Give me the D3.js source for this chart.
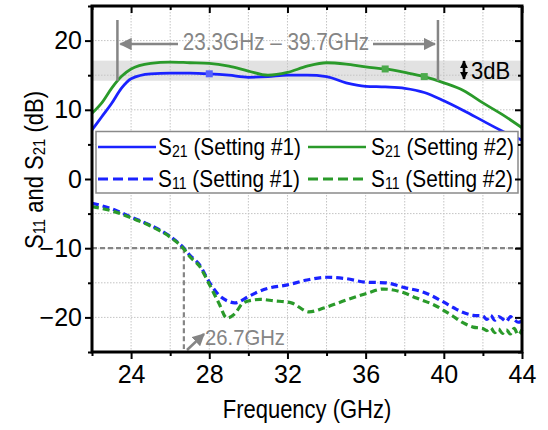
<!DOCTYPE html>
<html><head><meta charset="utf-8">
<script src="https://cdn.jsdelivr.net/npm/d3@7"></script>
<style>body{margin:0;background:#fff}svg{display:block}text{font-family:"Liberation Sans",Arial,sans-serif}</style>
</head><body><svg id="c" width="548" height="430"></svg>
<script>
const xTicks = [24, 28, 32, 36, 40, 44];
const xMinor = [22, 26, 30, 34, 38, 42];
const yTicks = [-20, -10, 0, 10, 20];
const yMinor = [-25, -15, -5, 5, 15, 25];

const freqS21 = [22, 22.5, 23, 23.5, 24, 25, 26, 27, 28, 29, 30, 31, 32, 33, 34, 35, 36, 37, 38, 39, 40, 41, 42, 43, 44];
const s21Set1 = [7.1, 9.0, 10.9, 13.1, 14.5, 15.2, 15.3, 15.3, 15.2, 15.0, 14.7, 14.8, 15.0, 15.0, 14.8, 13.9, 13.4, 13.3, 13.1, 12.5, 11.3, 9.9, 8.4, 6.9, 5.6];
const s21Set2 = [9.5, 11.0, 13.1, 14.8, 15.9, 16.7, 16.9, 16.8, 16.7, 16.3, 15.6, 15.0, 15.4, 16.3, 16.8, 16.6, 16.2, 15.9, 15.4, 14.8, 13.9, 12.8, 11.0, 9.3, 7.4];

const freqS11a = [22, 23, 24, 25, 26, 26.7, 27, 27.5, 28, 28.5, 29, 29.3, 30, 30.5, 31, 32, 33, 34, 35, 36, 37, 38, 39, 40, 40.5, 41, 41.5, 42, 42.2, 42.4, 42.6, 42.8, 43, 43.2, 43.4, 43.6, 43.8, 44];
const s11Set1 = [-3.5, -4.3, -5.5, -6.7, -8.3, -10, -11, -12.4, -14.9, -16.8, -17.7, -17.9, -17.0, -16.3, -15.8, -15.3, -14.6, -14.2, -14.4, -14.9, -15.0, -15.7, -16.4, -17.8, -18.6, -19.3, -19.7, -19.8, -20.3, -19.7, -20.4, -19.9, -20.2, -20.6, -19.9, -20.3, -20.7, -20.5];
const freqS11b = [22, 23, 24, 25, 26, 26.7, 27, 27.5, 28, 28.5, 28.9, 29.3, 29.7, 30.2, 30.6, 31.3, 32.2, 33.1, 33.9, 35, 36.1, 36.9, 37.8, 38.6, 39.5, 40.4, 41, 41.5, 42, 42.2, 42.4, 42.6, 42.8, 43, 43.2, 43.4, 43.6, 43.8, 44];
const s11Set2 = [-4.0, -4.6, -5.6, -6.8, -8.4, -10.1, -11.2, -12.6, -15.2, -18.0, -20.1, -19.5, -18.0, -17.5, -17.4, -17.6, -17.9, -19.2, -18.6, -17.5, -16.5, -15.9, -16.3, -17.2, -18.2, -19.7, -20.8, -21.4, -21.6, -21.9, -21.5, -22.2, -21.7, -22.3, -21.8, -22.4, -21.6, -22.5, -21.8];

const markersSet1 = [28];
const markersSet2 = [37, 39];
const band = [14.2, 17.1];
const bwLow = 23.3, bwHigh = 39.7, s11Cross = 26.7;

const blue = "#1a22ff", green = "#2a9a2a", gray = "#858585";
const svg = d3.select("#c");
const x = d3.scaleLinear().domain([22, 44]).range([92, 522]);
const y = d3.scaleLinear().domain([-25, 25]).range([352, 6]);

function txt(g, px, py, s, size, anchor, fill, rot, sx) {
  const t = g.append("text")
    .attr("transform", `translate(${px},${py})` + (rot ? ` rotate(${rot})` : "") + ` scale(${sx || 0.88},1)`)
    .attr("font-size", size).attr("text-anchor", anchor || "start").attr("fill", fill || "#000");
  if (Array.isArray(s)) {
    s.forEach(p => {
      const ts = t.append("tspan").text(p.t);
      if (p.sub) ts.attr("font-size", size * 0.68).attr("dy", 2);
      if (p.up) ts.attr("dy", -2);
    });
  } else t.text(s);
  return t;
}

// band
svg.append("rect").attr("x", x(22)).attr("width", x(44) - x(22))
  .attr("y", y(band[1])).attr("height", y(band[0]) - y(band[1])).attr("fill", "#e2e2e2");

// grid
const grid = svg.append("g").attr("stroke", "#c4c4c4").attr("stroke-width", 1).attr("stroke-dasharray", "1.5,1.5");
[...xTicks, ...xMinor].forEach(v => grid.append("line").attr("x1", x(v)).attr("x2", x(v)).attr("y1", y(25)).attr("y2", y(-25)));
[...yTicks, ...yMinor].forEach(v => grid.append("line").attr("y1", y(v)).attr("y2", y(v)).attr("x1", x(22)).attr("x2", x(44)));

// reference -10 dB lines
svg.append("line").attr("x1", x(22)).attr("x2", x(44)).attr("y1", y(-10)).attr("y2", y(-10))
  .attr("stroke", gray).attr("stroke-width", 2.2).attr("stroke-dasharray", "5,3");
svg.append("line").attr("x1", x(s11Cross)).attr("x2", x(s11Cross)).attr("y1", y(-10)).attr("y2", y(-25) - 3)
  .attr("stroke", gray).attr("stroke-width", 2.2).attr("stroke-dasharray", "5,3");

// curves
const line = d3.line().x(d => x(d[0])).y(d => y(d[1])).curve(d3.curveMonotoneX);
function series(fr, vals, color, dashed) {
  svg.append("path").datum(fr.map((f, i) => [f, vals[i]])).attr("d", line)
    .attr("fill", "none").attr("stroke", color).attr("stroke-width", dashed ? 3.2 : 2.8)
    .attr("stroke-dasharray", dashed ? "7,4" : null).attr("stroke-linejoin", "round");
}
series(freqS11a, s11Set1, blue, true);
series(freqS11b, s11Set2, green, true);
series(freqS21, s21Set1, blue, false);
series(freqS21, s21Set2, green, false);

function interp(fr, vals, f) { return d3.scaleLinear().domain(fr).range(vals)(f); }
markersSet1.forEach(f => svg.append("rect").attr("x", x(f) - 3.5).attr("y", y(interp(freqS21, s21Set1, f)) - 3.5)
  .attr("width", 7).attr("height", 7).attr("fill", "#5560ff"));
markersSet2.forEach(f => svg.append("rect").attr("x", x(f) - 3.5).attr("y", y(interp(freqS21, s21Set2, f)) - 3.5)
  .attr("width", 7).attr("height", 7).attr("fill", "#4caa4c"));

// defs arrow
const defs = svg.append("defs");
defs.append("marker").attr("id", "ah").attr("viewBox", "0 0 10 10").attr("refX", 9).attr("refY", 5)
  .attr("markerWidth", 5).attr("markerHeight", 5).attr("orient", "auto-start-reverse")
  .append("path").attr("d", "M0,0L10,5L0,10z").attr("fill", gray);
defs.append("marker").attr("id", "ahk").attr("viewBox", "0 0 10 10").attr("refX", 9).attr("refY", 5)
  .attr("markerWidth", 3.2).attr("markerHeight", 3.2).attr("orient", "auto-start-reverse")
  .append("path").attr("d", "M0,0L10,5L0,10z").attr("fill", "#000");

// bandwidth annotation
[bwLow, bwHigh].forEach(f => svg.append("line").attr("x1", x(f)).attr("x2", x(f)).attr("y1", 20).attr("y2", y(band[0]))
  .attr("stroke", gray).attr("stroke-width", 2.5));
svg.append("line").attr("x1", 178).attr("x2", x(bwLow) + 3).attr("y1", 44).attr("y2", 44)
  .attr("stroke", gray).attr("stroke-width", 2.5).attr("marker-end", "url(#ah)");
svg.append("line").attr("x1", 373).attr("x2", x(bwHigh) - 3).attr("y1", 44).attr("y2", 44)
  .attr("stroke", gray).attr("stroke-width", 2.5).attr("marker-end", "url(#ah)");
txt(svg, 276, 50, "23.3GHz – 39.7GHz", 23, "middle", gray, 0, 0.9);

// 3dB label
svg.append("line").attr("x1", 464).attr("x2", 464).attr("y1", 61).attr("y2", 79)
  .attr("stroke", "#000").attr("stroke-width", 2.6)
  .attr("marker-start", "url(#ahk)").attr("marker-end", "url(#ahk)");
txt(svg, 471, 79, "3dB", 24.5, "start", "#000", 0, 0.9);

// 26.7GHz annotation
svg.append("line").attr("x1", 187).attr("y1", 350).attr("x2", 204).attr("y2", 334)
  .attr("stroke", gray).attr("stroke-width", 2.5).attr("marker-end", "url(#ah)");
txt(svg, 205, 345, "26.7GHz", 22.5, "start", gray, 0, 0.9);

// legend
const lg = svg.append("g");
lg.append("rect").attr("x", 96).attr("y", 131.5).attr("width", 422).attr("height", 61.5)
  .attr("fill", "#fff").attr("stroke", "#8a8a8a").attr("stroke-width", 1.5);
const legendItems = [
  {c: blue, d: false, lx: 98, tx: 158, ly: 147, ty: 155, lab: [{t: "S"}, {t: "21", sub: true}, {t: " (Setting #1)", up: true}]},
  {c: green, d: false, lx: 308, tx: 371, ly: 147, ty: 155, lab: [{t: "S"}, {t: "21", sub: true}, {t: " (Setting #2)", up: true}]},
  {c: blue, d: true, lx: 98, tx: 158, ly: 179, ty: 187, lab: [{t: "S"}, {t: "11", sub: true}, {t: " (Setting #1)", up: true}]},
  {c: green, d: true, lx: 308, tx: 371, ly: 179, ty: 187, lab: [{t: "S"}, {t: "11", sub: true}, {t: " (Setting #2)", up: true}]}
];
legendItems.forEach(it => {
  lg.append("line").attr("x1", it.lx).attr("x2", it.lx + 58).attr("y1", it.ly).attr("y2", it.ly)
    .attr("stroke", it.c).attr("stroke-width", it.d ? 3 : 2.6).attr("stroke-dasharray", it.d ? "10,5" : null);
  txt(lg, it.tx, it.ty, it.lab, 24.5, "start", "#000", 0, 0.85);
});

// axes
const ax = svg.append("g");
const bottom = ax.append("g").attr("transform", `translate(0,${y(-25)})`)
  .call(d3.axisBottom(x).tickValues(xTicks).tickSize(7).tickFormat(d3.format("d")));
ax.append("g").attr("transform", `translate(0,${y(-25)})`).call(d3.axisBottom(x).tickValues(xMinor).tickSize(4).tickFormat(""));
const left = ax.append("g").attr("transform", `translate(${x(22)},0)`)
  .call(d3.axisLeft(y).tickValues(yTicks).tickSize(7).tickFormat(d => d3.format("d")(d).replace("-", "−")));
ax.append("g").attr("transform", `translate(${x(22)},0)`).call(d3.axisLeft(y).tickValues(yMinor).tickSize(4).tickFormat(""));
ax.append("g").attr("transform", `translate(0,${y(25)})`).call(d3.axisBottom(x).tickValues(xTicks).tickSize(7).tickFormat(""));
ax.append("g").attr("transform", `translate(0,${y(25)})`).call(d3.axisBottom(x).tickValues(xMinor).tickSize(4).tickFormat(""));
ax.append("g").attr("transform", `translate(${x(44)},0)`).call(d3.axisLeft(y).tickValues(yTicks).tickSize(7).tickFormat(""));
ax.append("g").attr("transform", `translate(${x(44)},0)`).call(d3.axisLeft(y).tickValues(yMinor).tickSize(4).tickFormat(""));
ax.selectAll(".domain").remove();
ax.selectAll(".tick line").attr("stroke", "#000").attr("stroke-width", 2);
bottom.selectAll(".tick text").attr("font-size", 25).attr("font-family", "Liberation Sans, Arial").attr("fill", "#000").attr("y", 13);
left.selectAll(".tick text").attr("font-size", 25).attr("font-family", "Liberation Sans, Arial").attr("fill", "#000").attr("x", -10);
svg.append("rect").attr("x", x(22)).attr("y", y(25)).attr("width", x(44) - x(22)).attr("height", y(-25) - y(25))
  .attr("fill", "none").attr("stroke", "#000").attr("stroke-width", 3);

// axis titles
txt(svg, 307, 418, "Frequency (GHz)", 25, "middle", "#000");
txt(svg, 43, 170, [{t: "S"}, {t: "11", sub: true}, {t: " and S", up: true}, {t: "21", sub: true}, {t: " (dB)", up: true}], 25, "middle", "#000", -90);
</script></body></html>
